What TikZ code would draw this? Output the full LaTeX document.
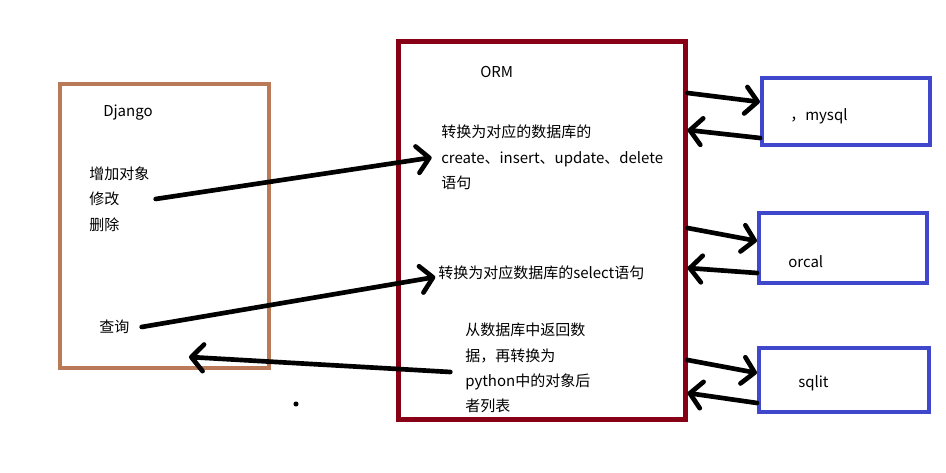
\documentclass[tikz,border=0pt]{standalone}
\usepackage{fontspec}
\setmainfont{Noto Sans CJK SC}
\usetikzlibrary{arrows.meta}
\definecolor{djangobrown}{RGB}{185,122,87}
\definecolor{ormred}{RGB}{136,0,21}
\definecolor{dbblue}{RGB}{63,72,204}

\begin{document}
\begin{tikzpicture}[x=0.75pt, y=-0.75pt,
                box/.style={draw, inner sep=0pt},
                django box/.style={box, draw=djangobrown, line width=3pt},
                orm box/.style={box, draw=ormred, line width=3.75pt},
                db box/.style={box, draw=dbblue, line width=3pt},
                label text/.style={inner sep=0pt, align=left, font=\fontsize{11.25pt}{19pt}\selectfont},
                hand arrow/.style={line width=3.5pt, line cap=round, line join=round,
                    -{Straight Barb[length=9pt, width=20pt, round]}}]

            \useasboundingbox (0,0) rectangle (946,473);

            \node[django box, minimum width=156.75pt, minimum height=213pt] (django) at (164,226.5) {};
            \node[orm box, minimum width=215.25pt, minimum height=283.5pt] (orm) at (541.5,231) {};
            \node[db box, minimum width=126pt, minimum height=50.25pt] (mysql) at (846,111.5) {};
            \node[db box, minimum width=126pt, minimum height=52.5pt] (orcal) at (843,248) {};
            \node[db box, minimum width=127.5pt, minimum height=48pt] (sqlit) at (844,380) {};

            \node[label text, anchor=west] (djangotitle) at (103,113) {Django};
            \node[label text, anchor=west] (ops) at (89,199) {增加对象\\修改\\删除};
            \node[label text, anchor=west] (query) at (99,327) {查询};
            \node[label text, anchor=west] (ormtitle) at (480,72) {ORM};
            \node[label text, anchor=west] (crud) at (441,157.5) {转换为对应的数据库的\\create、insert、update、delete\\语句};
            \node[label text, anchor=west] (select) at (438,273) {转换为对应数据库的select语句};
            \node[label text, anchor=west] (result) at (465,368) {从数据库中返回数\\据，再转换为\\python中的对象后\\者列表};
            \node[label text, anchor=west] (mysqltext) at (790,116) {，mysql};
            \node[label text, anchor=west] (orcaltext) at (788,262) {orcal};
            \node[label text, anchor=west] (sqlittext) at (798,383) {sqlit};
            \coordinate (djangoin) at (189,357);
            \fill (296,404) circle[radius=1.9pt];

            \draw[hand arrow] ([xshift=50pt]ops.west) -- ([xshift=-7pt]crud.west);
            \draw[hand arrow] ([xshift=32pt]query.west) -- ([xshift=-2pt, yshift=-3pt]select.west);
            \draw[hand arrow] ([xshift=-11pt, yshift=-3pt]result.west) -- (djangoin);

            \draw[hand arrow] (orm.east |- 0,93) -- (mysql.west |- 0,102);
            \draw[hand arrow] (mysql.west |- 0,138) -- (orm.east |- 0,130);
            \draw[hand arrow] (orm.east |- 0,228) -- (orcal.west |- 0,241);
            \draw[hand arrow] (orcal.west |- 0,273) -- (orm.east |- 0,268);
            \draw[hand arrow] (orm.east |- 0,360) -- (sqlit.west |- 0,373);
            \draw[hand arrow] (sqlit.west |- 0,403) -- (orm.east |- 0,393);
        \end{tikzpicture}
\end{document}
